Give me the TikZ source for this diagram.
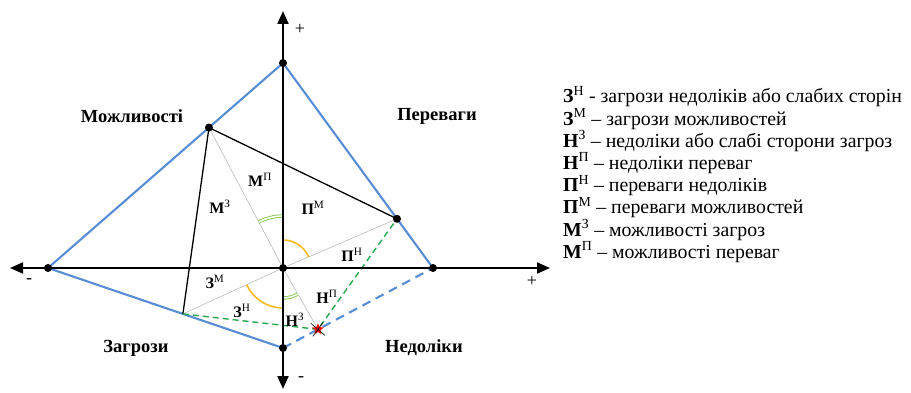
\documentclass[tikz,border=0pt]{standalone}
\usepackage{fontspec}
\setmainfont{Liberation Serif}
\usetikzlibrary{arrows.meta,angles,shapes.geometric,calc}
\definecolor{edgeblue}{RGB}{88,140,212}
\definecolor{dashgreen}{RGB}{38,168,78}
\definecolor{arcyellow}{RGB}{247,186,30}
\definecolor{arcgreen}{RGB}{130,200,80}
\tikzset{
  dot/.style={circle,fill=black,inner sep=0pt,minimum size=8pt},
  axisline/.style={line width=2.1pt,{Triangle[length=13pt,width=11pt]}-{Triangle[length=13pt,width=11pt]}},
  blueedge/.style={edgeblue,line width=2.1pt},
  greendash/.style={dashgreen,line width=1.4pt,dash pattern=on 6pt off 4pt},
  grayline/.style={gray!60,line width=0.5pt},
  corner/.style={font=\fontsize{18.5}{20}\selectfont\bfseries},
  part/.style={font=\fontsize{16}{18}\selectfont},
  sign/.style={font=\fontsize{18}{20}\selectfont}
}
\begin{document}
\begin{tikzpicture}[x=1pt,y=1pt]
    \useasboundingbox (0,0) rectangle (911,392);
    % axes and outer points
    \coordinate (O) at (283,124);
    \coordinate (T) at (283,329);
    \coordinate (L) at (48,124);
    \coordinate (R) at (433,124);
    \coordinate (B) at (283,44);
    \coordinate (xl) at (10,124);
    \coordinate (xr) at (550,124);
    \coordinate (yt) at (283,381);
    \coordinate (yb) at (283,3);
    % points on the edges
    \coordinate (M) at ($(L)!0.685!(T)$);
    \coordinate (P) at ($(T)!0.76!(R)$);
    \coordinate (Z) at ($(L)!0.574!(B)$);
    \coordinate (S) at ($(B)!0.233!(R)$);

    \draw[grayline] (M) -- (O) -- (S);
    \draw[grayline] (P) -- (O) -- (Z);

    \pic[draw=arcyellow,line width=1.6pt,angle radius=28pt] {angle=P--O--T};
    \pic[draw=arcyellow,line width=1.6pt,angle radius=40pt] {angle=Z--O--B};
    \pic[draw=arcgreen,line width=0.9pt,double,double distance=1.6pt,angle radius=52pt] {angle=T--O--M};
    \pic[draw=arcgreen,line width=0.9pt,double,double distance=1.6pt,angle radius=30pt] {angle=B--O--S};

    \draw[blueedge] (L) -- (T) -- (R);
    \draw[blueedge] (L) -- (B);
    \draw[blueedge,dash pattern=on 9pt off 6pt] (B) -- (R);
    \draw[line width=1.3pt] (Z) -- (M) -- (P);
    \draw[greendash] (Z) -- (S) -- (P);

    \draw[axisline] (xl) -- (xr);
    \draw[axisline] (yb) -- (yt);

    \foreach \p in {T,L,R,B,O,M,P}
      \node[dot] (d\p) at (\p) {};
    \node[star,star points=5,star point ratio=2.2,fill=red,inner sep=0pt,minimum size=12pt] (st) at (S) {};
    \draw[line width=0.6pt] ([shift={(-7,6)}]st.center) -- ([shift={(7,-6)}]st.center);
    \draw[line width=0.6pt] ([shift={(-5,-7)}]st.center) -- ([shift={(5,7)}]st.center);

    \node[sign] (pt) at (300,363) {+};
    \node[sign] (mb) at (301,13) {-};
    \node[sign] (ml) at (29,111) {-};
    \node[sign] (pr) at (532,111) {+};

    \node[corner] (mozh) at (132,276) {Можливості};
    \node[corner] (perev) at (437,276) {Переваги};
    \node[corner] (zagr) at (136,44) {Загрози};
    \node[corner] (nedol) at (424,44) {Недоліки};

    \node[part] (mp) at (260,212) {\textbf{М}\textsuperscript{П}};
    \node[part] (mz) at (220,185) {\textbf{М}\textsuperscript{З}};
    \node[part] (pm) at (313,184) {\textbf{П}\textsuperscript{М}};
    \node[part] (pn) at (352,137) {\textbf{П}\textsuperscript{Н}};
    \node[part] (zm) at (215,110) {\textbf{З}\textsuperscript{М}};
    \node[part] (zn) at (242,81) {\textbf{З}\textsuperscript{Н}};
    \node[part] (np) at (327,95) {\textbf{Н}\textsuperscript{П}};
    \node[part] (nz) at (295,72) {\textbf{Н}\textsuperscript{З}};

    % legend
    \node[anchor=north west,align=left,inner sep=0pt,font=\fontsize{19.8}{22.2}\selectfont] (legend) at (563,306) {%
      \textbf{З}\textsuperscript{Н} - загрози недоліків або слабих сторін\\
      \textbf{З}\textsuperscript{М} – загрози можливостей\\
      \textbf{Н}\textsuperscript{З} – недоліки або слабі сторони загроз\\
      \textbf{Н}\textsuperscript{П} – недоліки переваг\\
      \textbf{П}\textsuperscript{Н} – переваги недоліків\\
      \textbf{П}\textsuperscript{М} – переваги можливостей\\
      \textbf{М}\textsuperscript{З} – можливості загроз\\
      \textbf{М}\textsuperscript{П} – можливості переваг};
\end{tikzpicture}
\end{document}
